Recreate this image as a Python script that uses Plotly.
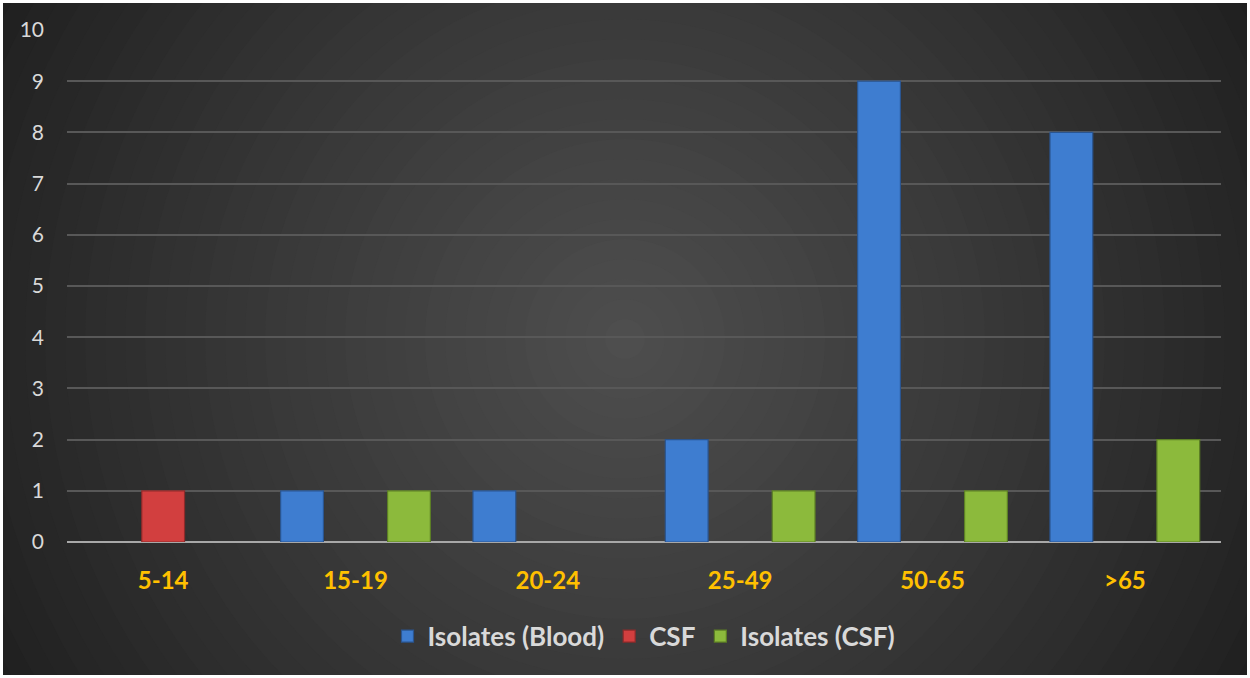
import numpy as np
import plotly.graph_objects as go

# Age groups and counts per series
age_groups = ["5-14", "15-19", "20-24", "25-49", "50-65", ">65"]
isolates_blood = [0, 1, 1, 2, 9, 8]
csf = [1, 0, 0, 0, 0, 0]
isolates_csf = [0, 1, 0, 1, 1, 2]

W, H = 1250, 678
L, R, T, B = 67, 29, 30, 136
PW, PH = W - L - R, H - T - B


def px_to_paper(px, py):
    return (px - L) / PW, (H - B - py) / PH


fig = go.Figure()

series = [
    ("Isolates (Blood)", isolates_blood, "#3E7DD0", "#2A5590"),
    ("CSF", csf, "#D23F3F", "#8E2A2A"),
    ("Isolates (CSF)", isolates_csf, "#8CBA3C", "#5C7F25"),
]
for name, vals, col, edge in series:
    # empty categories get no bar at all (no outline on the baseline)
    shown = [v if v else None for v in vals]
    fig.add_trace(go.Bar(
        x=age_groups, y=shown, name=name,
        marker=dict(color=col, line=dict(color=edge, width=1.2)),
    ))

# Radial background built from concentric filled circles
shapes = []
x0p, y0p = px_to_paper(3, 3)
x1p, y1p = px_to_paper(W - 3, H - 3)
shapes.append(dict(type="rect", xref="paper", yref="paper", x0=x0p, x1=x1p,
                   y0=y1p, y1=y0p, fillcolor="#1e1e1e", line=dict(width=0),
                   layer="below"))
cx, cy = 625, 339
c_out = np.array([0x1e, 0x1e, 0x1e])
c_in = np.array([0x4e, 0x4e, 0x4e])
n = 36
rmax = 720
for i in range(n):
    r = rmax * (1 - i / n)
    t = (i + 1) / n
    c = (c_out + (c_in - c_out) * t ** 0.9).astype(int)
    shapes.append(dict(
        type="circle", xref="paper", yref="paper",
        x0=(cx - r - L) / PW, x1=(cx + r - L) / PW,
        y0=(H - B - (cy + r)) / PH, y1=(H - B - (cy - r)) / PH,
        fillcolor="rgb(%d,%d,%d)" % tuple(c), line=dict(width=0), layer="below",
    ))

# White frame around the chart area
for (a, b, c_, d) in [(0, 0, W, 3), (0, H - 3, W, H), (0, 0, 3, H), (W - 3, 0, W, H)]:
    xa, ya = px_to_paper(a, b)
    xb, yb = px_to_paper(c_, d)
    shapes.append(dict(type="rect", xref="paper", yref="paper", x0=xa, x1=xb,
                       y0=yb, y1=ya, fillcolor="white", line=dict(width=0),
                       layer="above"))

fig.update_layout(
    width=W, height=H,
    margin=dict(l=L, r=R, t=T, b=B),
    paper_bgcolor="white",
    plot_bgcolor="rgba(0,0,0,0)",
    barmode="group",
    bargap=0.166,
    bargroupgap=0.2,
    shapes=shapes,
    font=dict(family="Lato, Open Sans, sans-serif"),
    legend=dict(
        orientation="h", x=0.5, xanchor="center", y=-0.184, yanchor="middle",
        font=dict(size=26, color="#d9d9d9", family="Lato, sans-serif", weight="bold"),
        bgcolor="rgba(0,0,0,0)", itemwidth=30, traceorder="normal",
    ),
    xaxis=dict(
        showgrid=False, showline=False, ticks="",
        tickfont=dict(size=24, color="#FFC000", family="Lato, sans-serif", weight="bold"),
        ticklabelstandoff=22,
    ),
    yaxis=dict(
        range=[0, 10], dtick=1, showgrid=True, gridcolor="#585858", gridwidth=1.5,
        zeroline=True, zerolinecolor="#a8a8a8", zerolinewidth=2,
        showline=False, ticks="",
        tickfont=dict(size=21, color="#d9d9d9", family="Lato, sans-serif"),
        ticklabelstandoff=22,
    ),
)

fig.write_html("out.html")
